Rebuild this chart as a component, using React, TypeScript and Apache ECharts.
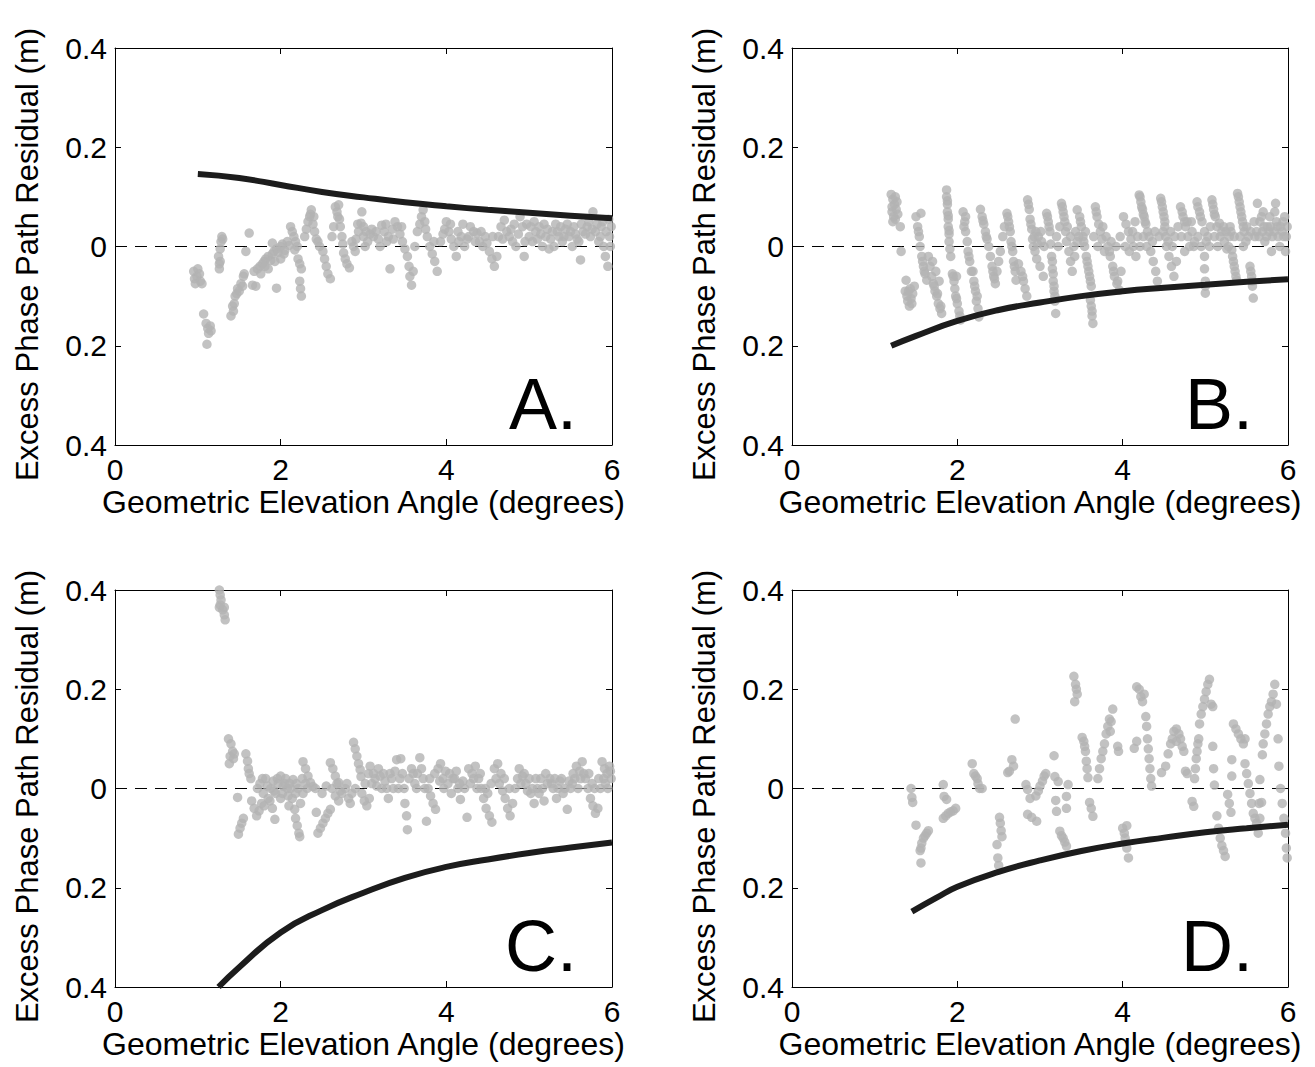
import React, { useEffect, useRef } from "react";
import * as echarts from "echarts";

const X_MIN = 0;
const X_MAX = 6;
const X_STEP = 2;
const Y_MIN = -0.4;
const Y_MAX = 0.4;
const Y_STEP = 0.2;
const X_TITLE = "Geometric Elevation Angle (degrees)";
const Y_TITLE = "Excess Phase Path Residual (m)";
const PANEL_LABELS = ["A.", "B.", "C.", "D."];

// model curves [elevation, residual]
const A_CURVE = [[1.0, 0.146], [1.5, 0.138], [2, 0.124], [2.5, 0.11], [3, 0.099], [3.5, 0.089], [4, 0.081], [4.5, 0.074], [5, 0.068], [5.5, 0.062], [6, 0.057]];
const B_CURVE = [[1.2, -0.2], [1.5, -0.18], [2, -0.15], [2.5, -0.128], [3, -0.113], [3.5, -0.1], [4, -0.09], [4.5, -0.083], [5, -0.077], [5.5, -0.071], [6, -0.066]];
const C_CURVE = [[1.25, -0.4], [1.5, -0.36], [2, -0.29], [2.5, -0.245], [3, -0.21], [3.5, -0.18], [4, -0.158], [4.5, -0.143], [5, -0.13], [5.5, -0.119], [6, -0.109]];
const D_CURVE = [[1.45, -0.248], [1.75, -0.22], [2, -0.198], [2.5, -0.168], [3, -0.145], [3.5, -0.126], [4, -0.111], [4.5, -0.099], [5, -0.088], [5.5, -0.08], [6, -0.073]];

// observed residuals [elevation, residual]
const A_POINTS = [
  [0.95, -0.05], [0.96, -0.065], [0.97, -0.075], [0.99, -0.06], [1.0, -0.045], [1.02, -0.055], [1.03, -0.07], [1.05, -0.075],
  [1.07, -0.136], [1.1, -0.155], [1.12, -0.165], [1.13, -0.175], [1.15, -0.16], [1.16, -0.17], [1.11, -0.197],
  [1.25, -0.02], [1.26, -0.035], [1.27, -0.03], [1.28, 0.01], [1.29, 0.02], [1.3, 0.015], [1.27, -0.005], [1.26, -0.045],
  [1.4, -0.14], [1.42, -0.12], [1.44, -0.115], [1.45, -0.1], [1.47, -0.095], [1.48, -0.085], [1.5, -0.09], [1.52, -0.075], [1.54, -0.08], [1.55, -0.06], [1.56, -0.055], [1.43, -0.13],
  [1.58, -0.01], [1.62, 0.027],
  [1.66, -0.078], [1.7, -0.08],
  [1.68, -0.05], [1.72, -0.045], [1.75, -0.04], [1.78, -0.035], [1.8, -0.03], [1.82, -0.025], [1.85, -0.02], [1.88, -0.028], [1.9, -0.015], [1.92, -0.01], [1.95, -0.005], [1.97, -0.012], [2.0, 0.0], [2.02, 0.005], [2.05, -0.008], [2.08, 0.01], [2.1, 0.002],
  [1.9, 0.007], [1.95, -0.084], [1.85, -0.045], [2.0, -0.025], [1.76, -0.055], [1.81, -0.04], [1.93, -0.03], [2.04, -0.015],
  [2.12, 0.04], [2.14, 0.03], [2.16, 0.02], [2.18, 0.01], [2.2, 0.0], [2.17, -0.007],
  [2.21, -0.025], [2.23, -0.035], [2.25, -0.045], [2.23, -0.07], [2.24, -0.085], [2.25, -0.1],
  [2.29, 0.02], [2.31, 0.035], [2.33, 0.05], [2.35, 0.06], [2.37, 0.074], [2.39, 0.045], [2.41, 0.03], [2.43, 0.015], [2.45, 0.01],
  [2.36, 0.065], [2.4, 0.06], [2.47, 0.0],
  [2.51, -0.01], [2.53, -0.025], [2.55, -0.04], [2.57, -0.055], [2.6, -0.065],
  [2.62, 0.02], [2.64, 0.04], [2.69, 0.06],
  [2.66, 0.08], [2.68, 0.07], [2.7, 0.084], [2.71, 0.055], [2.72, 0.04], [2.74, 0.02], [2.75, 0.005], [2.76, -0.013], [2.78, -0.025], [2.8, -0.035], [2.83, -0.043],
  [2.86, 0.01], [2.9, -0.01], [2.93, 0.045], [3.0, 0.04], [3.03, 0.03],
  [2.88, 0.0], [2.91, 0.015], [2.94, 0.03], [2.97, 0.047], [2.98, 0.07], [3.0, 0.02], [3.02, 0.0], [3.05, 0.01], [3.08, 0.025], [3.12, 0.02], [3.15, 0.03], [3.18, 0.015], [3.22, 0.043], [3.25, 0.03], [3.28, 0.01], [3.32, -0.045], [3.3, 0.02], [3.35, 0.035], [3.38, 0.05], [3.41, 0.04], [3.44, 0.025], [3.47, 0.01], [3.5, -0.005],
  [3.1, 0.035], [3.2, 0.0], [3.27, 0.045], [3.36, 0.015], [3.46, 0.04],
  [3.53, -0.02], [3.55, -0.04], [3.56, -0.06], [3.58, -0.078], [3.6, -0.05],
  [3.62, 0.0], [3.65, 0.03], [3.68, 0.045], [3.7, 0.06], [3.72, 0.074], [3.74, 0.05], [3.77, 0.02], [3.75, 0.035],
  [3.8, 0.0], [3.83, -0.015], [3.86, -0.03], [3.89, -0.05], [3.85, 0.01],
  [3.93, 0.01], [3.96, 0.025], [4.0, 0.05], [4.03, 0.03], [4.06, 0.015], [4.09, 0.0], [4.12, -0.02], [4.15, 0.01], [4.18, 0.02], [4.22, 0.0], [4.25, 0.015], [4.29, 0.04], [4.33, 0.03], [4.37, 0.027], [4.4, 0.01], [4.44, 0.0],
  [3.98, 0.035], [4.05, 0.045], [4.14, 0.03], [4.2, 0.045], [4.27, 0.02], [4.35, 0.01], [4.42, 0.03], [4.47, 0.02],
  [4.49, 0.007], [4.52, -0.01], [4.55, -0.025], [4.58, -0.04], [4.61, -0.02], [4.56, 0.02],
  [4.63, 0.02], [4.66, 0.04], [4.7, 0.053], [4.73, 0.03], [4.68, 0.015],
  [4.76, 0.02], [4.8, 0.01], [4.84, 0.0], [4.87, 0.025], [4.89, 0.06], [4.92, 0.04], [4.94, -0.02], [4.97, 0.045], [5.0, 0.02],
  [4.78, 0.035], [4.82, 0.045], [4.95, 0.01], [5.02, 0.04], [5.06, 0.05],
  [5.04, 0.01], [5.08, 0.03], [5.12, 0.04], [5.16, 0.0], [5.2, 0.02], [5.24, -0.005],
  [5.1, 0.015], [5.14, 0.025], [5.18, 0.045], [5.22, 0.035], [5.26, 0.015], [5.3, 0.0], [5.34, 0.03], [5.38, 0.04], [5.42, 0.02], [5.46, 0.045], [5.5, 0.03], [5.54, 0.04], [5.58, 0.015],
  [5.28, 0.03], [5.32, 0.045], [5.36, 0.02], [5.4, 0.01], [5.44, 0.035], [5.48, 0.02],
  [5.52, 0.0], [5.56, 0.025], [5.6, 0.01], [5.62, -0.027], [5.65, 0.03], [5.7, 0.04], [5.74, 0.02], [5.77, 0.07], [5.8, 0.03], [5.84, 0.01], [5.87, 0.04], [5.9, 0.0], [5.92, -0.02], [5.95, -0.04], [5.97, 0.02], [5.99, 0.04],
  [5.63, 0.045], [5.68, 0.025], [5.72, 0.05], [5.76, 0.035], [5.82, 0.045], [5.86, 0.02], [5.89, 0.05], [5.93, 0.03], [5.96, 0.055], [5.98, 0.0],
];

const B_POINTS = [
  [1.2, 0.105], [1.22, 0.095], [1.24, 0.085], [1.26, 0.075], [1.28, 0.065], [1.25, 0.055], [1.22, 0.05], [1.21, 0.07], [1.27, 0.09],
  [1.21, 0.08], [1.23, 0.06], [1.25, 0.1],
  [1.31, 0.04], [1.32, -0.01],
  [1.37, -0.09], [1.39, -0.1], [1.4, -0.11], [1.42, -0.12], [1.44, -0.105], [1.46, -0.095], [1.48, -0.08], [1.43, -0.085], [1.38, -0.068], [1.41, -0.09], [1.45, -0.115],
  [1.5, 0.06], [1.52, 0.04], [1.54, 0.02], [1.55, 0.0], [1.57, -0.02], [1.59, -0.04], [1.61, -0.055], [1.63, -0.068], [1.56, 0.067], [1.53, 0.03], [1.58, -0.03], [1.6, -0.05],
  [1.65, -0.02], [1.67, -0.04], [1.69, -0.06], [1.71, -0.075], [1.73, -0.09], [1.75, -0.1], [1.77, -0.115], [1.79, -0.125], [1.81, -0.135], [1.7, -0.03], [1.74, -0.05], [1.78, -0.07], [1.72, -0.08], [1.76, -0.095], [1.8, -0.12],
  [1.87, 0.114], [1.87, 0.1], [1.88, 0.085], [1.88, 0.07], [1.89, 0.055], [1.89, 0.04], [1.9, 0.025], [1.9, 0.01], [1.91, -0.005], [1.92, -0.02], [1.88, 0.092], [1.89, 0.062], [1.9, 0.032],
  [1.94, -0.055], [1.96, -0.07], [1.97, -0.085], [1.98, -0.1], [2.0, -0.115], [2.02, -0.13], [2.04, -0.148], [1.99, -0.06], [1.95, -0.06], [1.99, -0.105], [2.03, -0.14],
  [2.07, 0.07], [2.09, 0.05], [2.1, 0.03], [2.12, 0.01], [2.13, -0.01], [2.15, -0.03], [2.17, -0.05], [2.1, 0.06], [2.08, 0.04], [2.14, -0.02],
  [2.19, -0.05], [2.2, -0.07], [2.22, -0.09], [2.23, -0.11], [2.25, -0.125], [2.26, -0.142], [2.21, -0.08], [2.24, -0.1],
  [2.28, 0.075], [2.3, 0.06], [2.32, 0.045], [2.34, 0.03], [2.36, 0.015], [2.38, 0.0], [2.31, 0.052], [2.35, 0.02],
  [2.4, -0.02], [2.42, -0.04], [2.44, -0.06], [2.46, -0.075], [2.48, -0.05], [2.5, -0.03], [2.52, -0.01], [2.43, -0.05], [2.45, -0.065],
  [2.55, 0.02], [2.57, 0.04],
  [2.6, 0.067], [2.62, 0.05], [2.64, 0.03], [2.65, 0.01], [2.67, -0.01], [2.68, -0.03], [2.7, -0.05], [2.71, -0.068], [2.61, 0.06], [2.63, 0.04], [2.66, 0.0], [2.69, -0.04],
  [2.74, -0.035], [2.77, -0.05], [2.8, -0.07], [2.82, -0.085], [2.84, -0.1], [2.79, -0.06],
  [2.85, 0.094], [2.87, 0.075], [2.88, 0.055], [2.9, 0.035], [2.91, 0.015], [2.92, 0.0], [2.86, 0.085], [2.89, 0.045],
  [2.94, -0.01], [2.96, -0.025], [2.98, 0.02], [3.0, -0.04], [3.02, 0.01], [3.04, -0.06], [2.95, 0.03],
  [2.93, 0.02], [2.97, 0.005], [3.01, 0.03], [3.05, 0.0],
  [3.08, 0.067], [3.1, 0.05], [3.12, 0.03], [3.13, 0.005], [3.14, -0.02], [3.15, -0.045], [3.16, -0.07], [3.17, -0.09], [3.18, -0.11], [3.19, -0.135],
  [3.09, 0.06], [3.11, 0.04], [3.15, -0.03], [3.16, -0.055], [3.17, -0.08], [3.18, -0.1],
  [3.22, 0.0], [3.26, 0.087], [3.28, 0.07], [3.3, 0.05], [3.31, 0.03], [3.32, 0.01], [3.27, 0.08], [3.29, 0.06], [3.2, 0.02], [3.24, 0.04],
  [3.35, -0.01], [3.37, -0.03], [3.39, -0.05], [3.41, 0.0], [3.43, 0.03], [3.45, 0.074], [3.45, 0.01],
  [3.33, 0.04], [3.37, 0.02], [3.42, -0.02], [3.47, 0.02],
  [3.48, 0.06], [3.5, 0.04], [3.52, 0.02], [3.54, 0.0], [3.56, -0.02], [3.58, -0.04], [3.6, -0.06], [3.62, -0.08], [3.61, -0.108], [3.63, -0.13], [3.64, -0.155],
  [3.49, 0.05], [3.53, 0.01], [3.57, -0.03], [3.59, -0.05], [3.61, -0.07], [3.62, -0.12], [3.63, -0.14], [3.55, 0.03], [3.65, 0.02],
  [3.67, 0.08], [3.69, 0.06], [3.71, 0.045], [3.73, 0.03], [3.75, 0.015], [3.78, -0.01], [3.68, 0.07], [3.7, 0.0], [3.76, 0.04], [3.8, 0.02],
  [3.82, 0.0], [3.85, -0.02], [3.88, -0.04], [3.9, -0.06], [3.93, -0.075], [3.96, -0.088], [3.98, -0.05],
  [3.84, -0.01], [3.89, -0.05], [3.94, -0.07], [3.86, 0.01], [3.92, 0.0], [3.97, 0.02],
  [4.01, 0.06], [4.04, 0.045], [4.07, 0.03], [4.1, 0.015], [4.13, 0.0], [4.16, -0.02], [4.18, 0.02],
  [4.03, 0.0], [4.08, -0.01], [4.12, 0.03], [4.15, 0.05],
  [4.2, 0.104], [4.22, 0.09], [4.24, 0.075], [4.26, 0.06], [4.28, 0.045], [4.3, 0.03], [4.32, 0.02],
  [4.21, 0.1], [4.23, 0.08], [4.25, 0.065], [4.27, 0.05], [4.21, 0.0], [4.25, 0.02], [4.29, 0.0],
  [4.34, -0.01], [4.37, -0.03], [4.4, -0.05], [4.42, -0.07], [4.36, 0.01], [4.39, 0.03], [4.44, 0.02],
  [4.46, 0.097], [4.48, 0.08], [4.5, 0.06], [4.51, 0.04], [4.52, 0.02], [4.53, 0.0], [4.47, 0.09], [4.49, 0.07], [4.51, 0.05],
  [4.56, -0.02], [4.59, -0.04], [4.62, -0.06], [4.65, -0.03], [4.6, 0.0], [4.49, 0.03], [4.55, 0.01], [4.58, 0.03], [4.63, 0.02], [4.67, 0.04],
  [4.7, 0.08], [4.73, 0.06], [4.76, 0.04], [4.79, 0.02], [4.81, 0.0], [4.72, 0.07], [4.75, 0.05], [4.71, 0.02], [4.75, -0.01], [4.78, 0.05],
  [4.84, 0.03], [4.87, 0.01], [4.83, 0.05], [4.86, 0.0],
  [4.9, 0.09], [4.93, 0.07], [4.96, 0.05], [4.99, 0.03], [5.01, 0.01], [4.99, -0.02], [4.99, -0.045], [5.0, -0.07], [5.0, -0.094], [5.05, 0.0],
  [4.91, 0.08], [4.94, 0.06], [5.0, -0.08], [4.91, 0.02], [4.95, 0.0],
  [5.08, 0.094], [5.1, 0.075], [5.12, 0.06], [5.14, 0.04], [5.09, 0.085], [5.11, 0.065],
  [5.03, 0.02], [5.06, 0.04], [5.11, 0.02], [5.15, 0.0], [5.18, 0.02], [5.22, 0.04], [5.25, 0.03], [5.28, 0.0], [5.31, 0.03], [5.35, 0.02],
  [5.17, 0.047], [5.2, 0.03], [5.23, 0.01], [5.26, -0.005], [5.29, 0.02], [5.3, 0.04],
  [5.32, -0.007], [5.34, -0.03], [5.36, -0.05], [5.38, -0.068], [5.33, -0.02], [5.35, -0.04], [5.37, -0.06],
  [5.39, 0.107], [5.41, 0.09], [5.43, 0.07], [5.45, 0.05], [5.47, 0.03], [5.49, 0.01],
  [5.4, 0.1], [5.42, 0.08], [5.44, 0.06], [5.46, 0.04], [5.42, 0.02], [5.46, 0.0], [5.5, 0.04], [5.52, 0.02],
  [5.54, -0.04], [5.56, -0.06], [5.57, -0.08], [5.58, -0.104], [5.55, -0.05], [5.57, -0.07],
  [5.6, 0.02], [5.63, 0.087], [5.66, 0.05], [5.69, 0.03], [5.72, 0.01], [5.75, 0.04], [5.78, 0.06], [5.81, 0.02], [5.84, 0.07], [5.87, 0.04], [5.9, 0.0], [5.93, 0.03], [5.96, 0.06], [5.98, 0.02], [5.97, -0.01], [5.8, -0.01], [5.7, 0.07], [5.85, 0.087],
  [5.55, 0.03], [5.59, 0.05], [5.62, 0.03], [5.65, 0.02], [5.68, 0.06], [5.71, 0.04], [5.74, 0.02], [5.77, 0.03], [5.79, 0.04], [5.83, 0.03], [5.86, 0.05], [5.88, 0.02], [5.91, 0.04], [5.94, 0.05], [5.95, 0.02], [5.99, 0.04],
];

const C_POINTS = [
  [1.26, 0.4], [1.27, 0.39], [1.28, 0.38], [1.27, 0.37], [1.26, 0.365], [1.3, 0.36], [1.32, 0.365], [1.32, 0.35], [1.33, 0.34],
  [1.37, 0.1], [1.4, 0.09], [1.42, 0.075], [1.39, 0.065], [1.43, 0.06], [1.38, 0.05], [1.44, 0.07],
  [1.58, 0.07], [1.6, 0.055], [1.61, 0.04], [1.62, 0.03], [1.64, 0.02],
  [1.48, -0.018],
  [1.49, -0.092], [1.51, -0.08], [1.53, -0.07], [1.55, -0.06],
  [1.65, -0.025], [1.68, -0.04], [1.71, -0.055], [1.74, -0.045], [1.77, -0.03],
  [1.75, 0.01], [1.79, -0.01], [1.82, 0.02], [1.85, -0.02], [1.88, 0.0], [1.91, 0.015], [1.94, -0.01], [1.97, 0.01], [2.0, -0.02], [2.03, 0.005], [2.06, 0.02], [2.09, -0.015], [2.12, 0.0], [2.15, 0.018], [2.18, -0.01], [2.21, 0.0], [2.24, -0.03], [2.27, -0.01], [2.3, 0.01],
  [1.72, 0.0], [1.78, 0.02], [1.84, 0.005], [1.87, -0.025], [1.92, -0.005], [1.96, 0.02], [2.02, -0.01], [2.05, 0.01], [2.08, 0.0], [2.11, 0.01], [2.14, -0.02], [2.19, 0.01], [2.26, 0.02], [2.32, 0.0],
  [1.8, -0.035], [1.9, -0.04], [2.0, 0.025], [2.1, -0.035], [1.93, -0.062],
  [2.17, -0.042], [2.18, -0.06], [2.2, -0.075], [2.22, -0.09], [2.23, -0.097],
  [2.27, 0.054], [2.3, 0.04], [2.33, 0.025], [2.36, 0.012], [2.39, 0.004],
  [2.43, -0.048], [2.42, 0.0],
  [2.45, -0.09], [2.48, -0.08], [2.51, -0.07], [2.54, -0.06], [2.57, -0.05], [2.6, -0.042], [2.5, -0.01], [2.55, 0.005],
  [2.6, 0.052], [2.63, 0.04], [2.66, 0.025], [2.7, 0.012],
  [2.62, 0.0], [2.66, -0.015], [2.7, -0.025], [2.74, -0.01], [2.78, 0.0], [2.82, -0.02], [2.86, -0.01], [2.9, 0.0], [2.68, 0.01], [2.72, -0.005], [2.8, 0.01], [2.84, -0.03],
  [2.88, 0.093], [2.9, 0.08], [2.92, 0.065], [2.94, 0.05], [2.96, 0.038], [2.97, 0.024],
  [2.98, -0.01], [3.01, -0.025], [3.04, -0.035], [3.07, -0.02], [3.02, 0.01],
  [3.06, 0.03], [3.1, 0.01], [3.14, 0.02], [3.18, 0.04], [3.22, 0.0], [3.26, 0.015], [3.3, -0.02], [3.34, 0.02], [3.38, 0.035], [3.4, 0.058], [3.42, 0.0],
  [3.08, 0.045], [3.12, 0.03], [3.16, 0.005], [3.2, 0.025], [3.24, 0.03], [3.28, 0.0], [3.32, 0.03], [3.36, 0.0], [3.44, 0.02],
  [3.45, 0.06], [3.47, 0.03], [3.49, 0.0], [3.5, -0.03], [3.52, -0.055], [3.53, -0.083],
  [3.55, 0.02], [3.58, 0.04], [3.62, 0.01], [3.65, 0.03], [3.68, 0.062], [3.72, 0.02], [3.76, -0.066],
  [3.6, 0.03], [3.64, 0.0], [3.7, 0.04], [3.74, 0.0], [3.8, 0.02], [3.86, 0.03],
  [3.78, 0.0], [3.81, -0.015], [3.84, -0.03], [3.87, -0.042],
  [3.9, 0.04], [3.93, 0.05], [3.96, 0.02], [3.99, 0.035], [3.92, 0.015], [3.97, 0.0],
  [4.02, 0.01], [4.06, -0.01], [4.1, 0.02], [4.14, 0.0], [4.17, -0.022], [4.2, 0.015], [4.25, -0.058],
  [4.04, 0.03], [4.08, 0.02], [4.12, 0.035], [4.16, 0.01], [4.22, 0.0],
  [4.27, 0.04], [4.31, 0.03], [4.35, 0.045], [4.39, 0.02], [4.29, 0.01], [4.33, 0.02], [4.37, 0.0], [4.41, 0.03],
  [4.42, 0.0], [4.45, -0.02], [4.48, -0.04], [4.52, -0.055], [4.55, -0.068], [4.5, -0.01], [4.47, 0.0], [4.54, 0.01],
  [4.58, 0.04], [4.62, 0.05], [4.66, 0.03], [4.6, 0.02], [4.64, 0.01],
  [4.68, -0.005], [4.71, -0.02], [4.74, -0.04], [4.77, -0.055], [4.8, -0.03], [4.7, 0.02], [4.76, 0.0],
  [4.86, 0.02], [4.9, 0.01], [4.94, 0.03], [4.98, -0.005], [4.83, 0.0], [4.88, 0.04], [4.92, 0.025], [4.96, 0.01],
  [5.02, -0.01], [5.06, -0.03], [5.1, 0.0], [5.14, 0.02], [5.18, -0.025], [5.22, 0.01], [5.25, 0.02],
  [5.0, 0.02], [5.04, 0.0], [5.08, 0.02], [5.12, -0.01], [5.16, 0.0], [5.2, 0.03],
  [5.29, 0.0], [5.33, -0.02], [5.37, 0.015], [5.41, -0.01], [5.46, -0.042], [5.5, 0.0],
  [5.27, 0.01], [5.31, 0.02], [5.35, 0.0], [5.39, 0.02], [5.43, 0.0], [5.48, 0.015], [5.52, 0.01],
  [5.53, 0.03], [5.57, 0.045], [5.61, 0.035], [5.64, 0.054], [5.68, 0.02], [5.55, 0.02], [5.59, 0.0], [5.62, 0.02], [5.66, 0.03],
  [5.71, 0.0], [5.74, -0.02], [5.77, -0.035], [5.8, -0.05], [5.83, -0.04], [5.86, 0.0], [5.72, 0.03], [5.76, 0.01], [5.79, 0.0], [5.84, 0.02],
  [5.88, 0.054], [5.91, 0.04], [5.94, 0.03], [5.97, 0.045], [5.99, 0.02], [5.9, 0.02], [5.92, 0.01], [5.95, 0.0], [5.98, 0.035],
];

const D_POINTS = [
  [1.44, 0.0], [1.45, -0.018], [1.46, -0.028], [1.5, -0.074],
  [1.55, -0.125], [1.57, -0.11], [1.59, -0.1], [1.61, -0.095], [1.63, -0.09], [1.65, -0.085], [1.56, -0.12], [1.56, -0.15],
  [1.83, 0.008], [1.84, -0.016], [1.87, -0.022],
  [1.83, -0.06], [1.86, -0.055], [1.89, -0.05], [1.92, -0.047], [1.95, -0.045], [1.98, -0.04],
  [2.18, 0.05], [2.2, 0.03], [2.22, 0.025], [2.24, 0.02], [2.25, 0.01], [2.27, 0.0], [2.3, 0.0],
  [2.48, -0.113], [2.51, -0.058], [2.52, -0.07], [2.53, -0.085], [2.54, -0.097], [2.49, -0.14], [2.5, -0.155],
  [2.61, 0.032], [2.63, 0.035], [2.66, 0.058], [2.68, 0.045], [2.7, 0.14],
  [2.83, 0.008], [2.85, -0.002], [2.88, -0.02], [2.85, -0.052], [2.9, -0.058], [2.96, -0.066],
  [2.95, -0.015], [2.98, -0.005], [3.0, 0.005], [3.03, 0.015], [3.05, 0.025], [3.07, 0.03],
  [3.17, 0.066], [3.18, 0.024], [3.22, 0.014], [3.19, -0.024], [3.2, -0.046],
  [3.24, -0.086], [3.26, -0.095], [3.28, -0.1], [3.3, -0.108], [3.32, -0.116],
  [3.32, -0.016], [3.34, 0.008], [3.32, -0.04],
  [3.41, 0.226], [3.43, 0.21], [3.44, 0.2], [3.42, 0.175], [3.45, 0.19],
  [3.51, 0.103], [3.53, 0.095], [3.54, 0.085], [3.55, 0.075], [3.56, 0.055], [3.57, 0.04], [3.58, 0.022],
  [3.6, -0.028], [3.62, -0.04], [3.64, -0.056],
  [3.7, 0.02], [3.72, 0.04], [3.74, 0.06], [3.76, 0.075], [3.78, 0.09], [3.8, 0.11], [3.82, 0.125], [3.84, 0.14], [3.86, 0.135], [3.88, 0.16], [3.85, 0.115],
  [3.94, 0.085], [3.95, 0.075],
  [4.0, -0.08], [4.02, -0.09], [4.03, -0.1], [4.05, -0.12], [4.07, -0.14], [4.05, -0.075],
  [4.14, 0.081], [4.17, 0.095],
  [4.17, 0.205], [4.2, 0.2], [4.22, 0.185], [4.24, 0.175], [4.26, 0.19],
  [4.28, 0.145], [4.29, 0.125], [4.3, 0.1], [4.31, 0.08], [4.32, 0.06], [4.33, 0.04], [4.34, 0.02], [4.35, 0.005],
  [4.47, 0.032], [4.52, 0.045],
  [4.55, 0.07], [4.58, 0.09], [4.6, 0.1], [4.62, 0.115], [4.65, 0.12], [4.68, 0.11], [4.7, 0.1], [4.72, 0.085], [4.74, 0.075], [4.65, 0.095],
  [4.76, 0.035], [4.78, 0.03],
  [4.84, -0.026], [4.86, -0.036],
  [4.87, 0.02], [4.88, 0.04], [4.89, 0.06], [4.9, 0.075], [4.91, 0.09], [4.92, 0.1],
  [4.93, 0.13], [4.95, 0.15], [4.97, 0.165], [4.99, 0.18], [5.01, 0.195], [5.03, 0.21], [5.05, 0.22], [5.07, 0.17], [5.09, 0.165],
  [5.09, 0.085], [5.1, 0.04], [5.11, 0.007],
  [5.14, -0.055], [5.16, -0.08], [5.18, -0.1], [5.2, -0.115], [5.22, -0.125], [5.24, -0.137],
  [5.27, -0.012], [5.29, -0.03], [5.31, -0.048],
  [5.32, 0.058], [5.32, 0.025],
  [5.34, 0.13], [5.37, 0.12], [5.4, 0.11], [5.43, 0.1], [5.46, 0.09], [5.48, 0.1],
  [5.48, 0.05], [5.5, 0.03], [5.52, 0.01], [5.54, -0.01], [5.56, -0.03], [5.58, -0.05], [5.6, -0.06], [5.62, -0.07], [5.64, -0.09], [5.66, -0.06], [5.65, -0.03],
  [5.66, 0.018], [5.68, -0.028], [5.69, 0.068],
  [5.7, 0.09], [5.72, 0.11], [5.74, 0.13], [5.76, 0.15], [5.78, 0.165], [5.8, 0.175], [5.82, 0.19], [5.84, 0.21], [5.86, 0.17], [5.88, 0.1],
  [5.89, 0.045], [5.91, 0.0], [5.93, -0.03], [5.95, -0.06], [5.97, -0.09], [5.98, -0.12], [5.99, -0.14],
];

const CURVES = [A_CURVE, B_CURVE, C_CURVE, D_CURVE];
const POINTS = [A_POINTS, B_POINTS, C_POINTS, D_POINTS];

const FONT = "'Liberation Sans', Arial, Helvetica, sans-serif";
const GRIDS = [
  { left: 115, top: 48, width: 497, height: 397 },
  { left: 792, top: 48, width: 496, height: 397 },
  { left: 115, top: 590, width: 497, height: 397 },
  { left: 792, top: 590, width: 496, height: 397 },
];

function buildOption() {
  const xAxis: any[] = [];
  const yAxis: any[] = [];
  const series: any[] = [];
  const graphic: any[] = [];
  const axisLine = { show: true, onZero: false, lineStyle: { color: "#000", width: 1 } };
  const axisTick = { show: true, inside: true, length: 6, lineStyle: { color: "#000", width: 1 } };
  GRIDS.forEach((g, i) => {
    xAxis.push({
      gridIndex: i, type: "value", min: X_MIN, max: X_MAX, interval: X_STEP, position: "bottom",
      axisLine, axisTick, splitLine: { show: false },
      axisLabel: { color: "#000", fontSize: 30, fontFamily: FONT, margin: 9 },
      name: X_TITLE, nameLocation: "middle", nameGap: 41,
      nameTextStyle: { color: "#000", fontSize: 32, fontFamily: FONT },
    });
    xAxis.push({
      gridIndex: i, type: "value", min: X_MIN, max: X_MAX, interval: X_STEP, position: "top",
      axisLine, axisTick, splitLine: { show: false }, axisLabel: { show: false },
    });
    yAxis.push({
      gridIndex: i, type: "value", min: Y_MIN, max: Y_MAX, interval: Y_STEP, position: "left",
      axisLine, axisTick, splitLine: { show: false },
      axisLabel: {
        color: "#000", fontSize: 30, fontFamily: FONT, margin: 8,
        formatter: (v: number) => String(Math.abs(Math.round(v * 10) / 10)),
      },
    });
    yAxis.push({
      gridIndex: i, type: "value", min: Y_MIN, max: Y_MAX, interval: Y_STEP, position: "right",
      axisLine, axisTick, splitLine: { show: false }, axisLabel: { show: false },
    });
    series.push({
      type: "line", xAxisIndex: 2 * i, yAxisIndex: 2 * i, data: [[X_MIN, 0], [X_MAX, 0]],
      symbol: "none", lineStyle: { color: "#000", width: 1, type: [12, 8] }, z: 1, silent: true,
    });
    series.push({
      type: "scatter", xAxisIndex: 2 * i, yAxisIndex: 2 * i, data: POINTS[i],
      symbol: "circle", symbolSize: 9.5, itemStyle: { color: "#b3b3b3" }, z: 2, silent: true,
    });
    series.push({
      type: "line", xAxisIndex: 2 * i, yAxisIndex: 2 * i, data: CURVES[i], smooth: true,
      symbol: "none", lineStyle: { color: "#1c1c1c", width: 6 }, z: 3, silent: true,
    });
    graphic.push({
      type: "text", x: g.left + g.width - 35, y: g.top + g.height - 41,
      style: {
        text: PANEL_LABELS[i], fill: "#000", fontSize: 72, fontFamily: FONT,
        align: "right", verticalAlign: "middle",
      },
      z: 10,
    });
    graphic.push({
      type: "text", x: g.left - 88, y: g.top + g.height / 2 + 8, rotation: Math.PI / 2,
      style: {
        text: Y_TITLE, fill: "#000", fontSize: 31, fontFamily: FONT,
        align: "center", verticalAlign: "middle",
      },
      z: 10,
    });
  });
  return {
    animation: false,
    backgroundColor: "#fff",
    grid: GRIDS.map((g) => ({ ...g, containLabel: false })),
    xAxis, yAxis, series, graphic,
  };
}

export default function App() {
  const ref = useRef<HTMLDivElement>(null);
  useEffect(() => {
    if (!ref.current) return;
    const chart = echarts.init(ref.current, undefined, { renderer: "svg" });
    chart.setOption(buildOption() as any);
    return () => chart.dispose();
  }, []);
  return (
    <div
      ref={ref}
      style={{ position: "fixed", left: 0, top: 0, width: 1315, height: 1067, background: "#fff" }}
    />
  );
}
